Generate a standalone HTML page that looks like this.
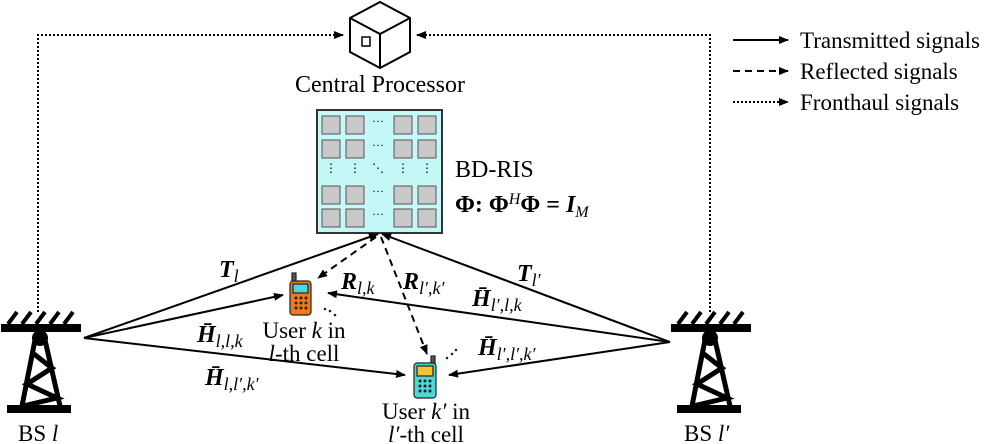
<!DOCTYPE html>
<html><head><style>body{margin:0;background:#fff}svg{display:block}text{font-family:"Liberation Serif",serif;fill:#000}</style></head><body>
<svg width="996" height="444" viewBox="0 0 996 444" xmlns="http://www.w3.org/2000/svg">
<defs><marker id="a" markerWidth="10" markerHeight="8" refX="9" refY="4" orient="auto" markerUnits="userSpaceOnUse"><path d="M0,0L10,4L0,8z" fill="#000"/></marker></defs>
<g stroke="#000" stroke-width="2" stroke-dasharray="2,2" fill="none">
<polyline points="38,312 38,35 343,35" marker-end="url(#a)"/>
<polyline points="710,312 710,35 417,35" marker-end="url(#a)"/>
</g>
<g stroke="#000" stroke-width="2" fill="#fff">
<path d="M380,2 L410,18 L410,52 L380,68 L350,52 L350,18Z"/>
<path d="M350,18 L380,34 L410,18 M380,34 L380,68" fill="none"/>
</g>
<rect x="362" y="37" width="8" height="9" fill="none" stroke="#000" stroke-width="1.5"/>
<text x="380" y="92" font-size="24" text-anchor="middle">Central Processor</text>
<rect x="317" y="110" width="125" height="123" fill="#c6f7f7" stroke="#333" stroke-width="2"/>
<g fill="#c8c8c8" stroke="#555" stroke-width="1">
<g id="r"><rect x="322" y="116" width="18" height="18"/><rect x="346" y="116" width="18" height="18"/><rect x="394" y="116" width="18" height="18"/><rect x="418" y="116" width="18" height="18"/></g>
<use href="#r" y="24"/><use href="#r" y="70"/><use href="#r" y="93"/>
</g>
<g font-size="12" text-anchor="middle"><text x="378" y="125">···</text><text x="378" y="149">···</text><text x="378" y="195">···</text><text x="378" y="218">···</text>
<text x="331" y="172">⋮</text><text x="355" y="172">⋮</text><text x="378" y="172">⋱</text><text x="403" y="172">⋮</text><text x="427" y="172">⋮</text></g>
<text x="455" y="177" font-size="24">BD-RIS</text>
<text x="455" y="212" font-size="24" font-weight="bold">Φ: Φ<tspan font-size="16" baseline-shift="super" font-style="italic" font-weight="normal">H</tspan>Φ = <tspan font-style="italic">I</tspan><tspan font-size="16" font-style="italic" font-weight="normal" dy="5">M</tspan></text>
<g stroke="#000" stroke-width="2" fill="none">
<line x1="84" y1="338" x2="378" y2="234" marker-end="url(#a)"/>
<line x1="84" y1="338" x2="283" y2="295" marker-end="url(#a)"/>
<line x1="84" y1="338" x2="405" y2="375" marker-end="url(#a)"/>
<line x1="670" y1="342" x2="382" y2="234" marker-end="url(#a)"/>
<line x1="670" y1="342" x2="328" y2="293" marker-end="url(#a)"/>
<line x1="670" y1="342" x2="449" y2="375" marker-end="url(#a)"/>
<g stroke-dasharray="7,5"><line x1="376" y1="237" x2="318" y2="278" marker-end="url(#a)"/><line x1="381" y1="237" x2="427" y2="354" marker-end="url(#a)"/></g>
</g>
<g stroke="#222" stroke-width="1.2">
<rect x="292" y="273" width="4" height="9" fill="#555"/>
<rect x="290" y="281" width="21" height="34" rx="3" fill="#f07a1e"/>
<rect x="293" y="284" width="15" height="9" fill="#4fd6d6"/>
<rect x="431" y="356" width="4" height="9" fill="#555"/>
<rect x="414" y="363" width="22" height="35" rx="3" fill="#4fd6d6"/>
<rect x="417" y="366" width="16" height="10" fill="#f4c430"/>
</g>
<g fill="#222"><circle cx="296" cy="298" r="1.5"/><circle cx="301" cy="298" r="1.5"/><circle cx="306" cy="298" r="1.5"/><circle cx="296" cy="303" r="1.5"/><circle cx="301" cy="303" r="1.5"/><circle cx="306" cy="303" r="1.5"/><circle cx="296" cy="308" r="1.5"/><circle cx="301" cy="308" r="1.5"/><circle cx="306" cy="308" r="1.5"/>
<circle cx="420" cy="381" r="1.5"/><circle cx="425" cy="381" r="1.5"/><circle cx="430" cy="381" r="1.5"/><circle cx="420" cy="386" r="1.5"/><circle cx="425" cy="386" r="1.5"/><circle cx="430" cy="386" r="1.5"/><circle cx="420" cy="391" r="1.5"/><circle cx="425" cy="391" r="1.5"/><circle cx="430" cy="391" r="1.5"/>
<circle cx="325" cy="309" r="1.3"/><circle cx="330" cy="311" r="1.3"/><circle cx="335" cy="315" r="1.3"/>
<circle cx="447" cy="358" r="1.3"/><circle cx="452" cy="354" r="1.3"/><circle cx="456" cy="350" r="1.3"/></g>
<g id="t" stroke="#000" fill="none">
<rect x="1" y="324" width="80" height="8" fill="#000" stroke="none"/>
<path d="M8,324 L17,312 M22,324 L31,312 M36,324 L45,312 M50,324 L59,312 M64,324 L73,312" stroke-width="4"/>
<circle cx="40" cy="338" r="8" fill="#000" stroke="none"/>
<rect x="7" y="405" width="64" height="8" fill="#000" stroke="none"/>
<path d="M35,340 L22,406 M45,340 L60,406 M34,354 L52,368 L27,384 L57,398 L23,406" stroke-width="5"/>
</g>
<use href="#t" x="670"/>
<g font-size="23">
<text x="18" y="441">BS <tspan font-style="italic">l</tspan></text>
<text x="684" y="441">BS <tspan font-style="italic">l′</tspan></text>
<text x="304" y="338" text-anchor="middle">User <tspan font-style="italic">k</tspan> in</text>
<text x="304" y="361" text-anchor="middle"><tspan font-style="italic">l</tspan>-th cell</text>
<text x="426" y="419" text-anchor="middle">User <tspan font-style="italic">k′</tspan> in</text>
<text x="426" y="442" text-anchor="middle"><tspan font-style="italic">l′</tspan>-th cell</text>
<g font-weight="bold" font-style="italic" font-size="24">
<text x="219" y="277">T<tspan font-size="18" font-weight="normal" dy="5">l</tspan></text>
<text x="341" y="289">R<tspan font-size="18" font-weight="normal" dy="5">l,k</tspan></text>
<text x="403" y="289">R<tspan font-size="18" font-weight="normal" dy="5">l′,k′</tspan></text>
<text x="517" y="281">T<tspan font-size="18" font-weight="normal" dy="5">l′</tspan></text>
<text x="472" y="306">H̄<tspan font-size="18" font-weight="normal" dy="5">l′,l,k</tspan></text>
<text x="197" y="342">H̄<tspan font-size="18" font-weight="normal" dy="5">l,l,k</tspan></text>
<text x="205" y="385">H̄<tspan font-size="18" font-weight="normal" dy="5">l,l′,k′</tspan></text>
<text x="478" y="355">H̄<tspan font-size="18" font-weight="normal" dy="5">l′,l′,k′</tspan></text>
</g>
</g>
<g stroke="#000" stroke-width="2"><line x1="733" y1="40" x2="788" y2="40" marker-end="url(#a)"/><line x1="733" y1="71" x2="788" y2="71" stroke-dasharray="7,5" marker-end="url(#a)"/><line x1="733" y1="102" x2="788" y2="102" stroke-dasharray="2,2" marker-end="url(#a)"/></g>
<g font-size="23"><text x="800" y="48">Transmitted signals</text><text x="800" y="79">Reflected signals</text><text x="800" y="110">Fronthaul signals</text></g>
</svg>
</body></html>
